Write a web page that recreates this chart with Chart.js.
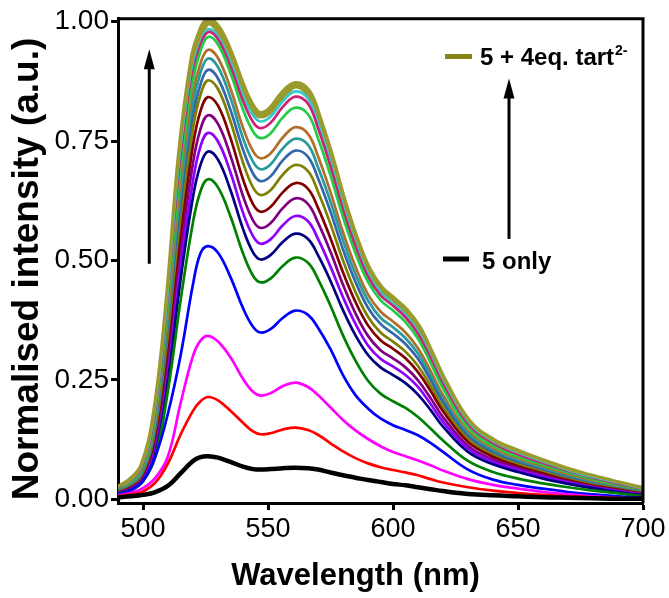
<!DOCTYPE html>
<html>
<head>
<meta charset="utf-8">
<script src="https://cdn.jsdelivr.net/npm/chart.js@4.4.0/dist/chart.umd.min.js"></script>
<style>
  html, body { margin: 0; padding: 0; background: #fff; }
  #wrap { position: relative; width: 669px; height: 598px; }
</style>
</head>
<body>
<div id="wrap"><canvas id="spectra" width="669" height="598"></canvas></div>
<script>
// Wavelength grid (nm)
const wavelengths = [490, 495, 500, 505, 510, 515, 520, 523, 526, 530, 535, 540, 544, 547, 551, 556, 561,
    566, 570, 575, 580, 585, 590, 595, 600, 605, 610, 615, 620, 630, 640, 650, 660, 670, 680, 690, 700];

// Normalised emission, one array per titration step (0 -> 4 eq. tart2-)
const tart000 = [0.004, 0.006, 0.009, 0.015, 0.028, 0.054, 0.08, 0.088, 0.09, 0.087, 0.078, 0.068, 0.063, 0.062, 0.063, 0.065, 0.066,
    0.065, 0.062, 0.056, 0.05, 0.045, 0.04, 0.036, 0.032, 0.029, 0.025, 0.021, 0.017, 0.011, 0.008, 0.006, 0.004, 0.003, 0.002, 0.001, 0.001];
const tart025 = [0.006, 0.01, 0.016, 0.035, 0.075, 0.135, 0.185, 0.205, 0.214, 0.207, 0.185, 0.16, 0.142, 0.136, 0.138, 0.146, 0.15,
    0.145, 0.135, 0.117, 0.1, 0.086, 0.075, 0.067, 0.061, 0.056, 0.05, 0.042, 0.035, 0.025, 0.018, 0.013, 0.009, 0.006, 0.004, 0.002, 0.001];
const tart050 = [0.008, 0.013, 0.023, 0.045, 0.09, 0.2, 0.3, 0.332, 0.342, 0.33, 0.297, 0.252, 0.225, 0.217, 0.222, 0.237, 0.244,
    0.235, 0.218, 0.192, 0.166, 0.144, 0.126, 0.111, 0.099, 0.09, 0.081, 0.071, 0.06, 0.042, 0.03, 0.022, 0.015, 0.01, 0.006, 0.003, 0.001];
const tart075 = [0.01, 0.018, 0.038, 0.09, 0.18, 0.3, 0.45, 0.515, 0.53, 0.516, 0.465, 0.4, 0.361, 0.349, 0.356, 0.38, 0.395,
    0.386, 0.359, 0.314, 0.26, 0.218, 0.19, 0.169, 0.155, 0.145, 0.134, 0.118, 0.099, 0.062, 0.041, 0.03, 0.022, 0.015, 0.01, 0.006, 0.003];
const tart100 = [0.011, 0.018, 0.037, 0.09, 0.228, 0.415, 0.58, 0.645, 0.67, 0.653, 0.592, 0.515, 0.468, 0.454, 0.462, 0.489, 0.506,
    0.495, 0.461, 0.405, 0.343, 0.29, 0.248, 0.221, 0.205, 0.191, 0.172, 0.148, 0.123, 0.08, 0.057, 0.043, 0.033, 0.025, 0.018, 0.012, 0.006];
const tart125 = [0.012, 0.02, 0.038, 0.095, 0.248, 0.459, 0.633, 0.7, 0.728, 0.711, 0.647, 0.566, 0.517, 0.502, 0.511, 0.539, 0.556,
    0.545, 0.511, 0.457, 0.396, 0.343, 0.302, 0.276, 0.26, 0.243, 0.219, 0.187, 0.152, 0.099, 0.073, 0.057, 0.043, 0.032, 0.023, 0.015, 0.008];
const tart150 = [0.013, 0.021, 0.04, 0.104, 0.265, 0.487, 0.667, 0.739, 0.767, 0.749, 0.684, 0.6, 0.551, 0.535, 0.544, 0.574, 0.593,
    0.582, 0.545, 0.487, 0.423, 0.367, 0.322, 0.294, 0.278, 0.26, 0.235, 0.2, 0.162, 0.106, 0.078, 0.061, 0.047, 0.035, 0.025, 0.017, 0.009];
const tart175 = [0.014, 0.023, 0.043, 0.109, 0.281, 0.515, 0.704, 0.775, 0.804, 0.786, 0.719, 0.635, 0.584, 0.568, 0.578, 0.61, 0.63,
    0.618, 0.579, 0.518, 0.449, 0.389, 0.342, 0.312, 0.295, 0.276, 0.249, 0.212, 0.172, 0.112, 0.083, 0.065, 0.05, 0.037, 0.026, 0.018, 0.01];
const tart200 = [0.014, 0.024, 0.045, 0.118, 0.299, 0.543, 0.741, 0.813, 0.842, 0.824, 0.756, 0.67, 0.618, 0.602, 0.612, 0.643, 0.662,
    0.65, 0.61, 0.546, 0.475, 0.413, 0.364, 0.333, 0.315, 0.295, 0.266, 0.227, 0.184, 0.12, 0.089, 0.069, 0.054, 0.04, 0.028, 0.02, 0.011];
const tart225 = [0.016, 0.026, 0.048, 0.123, 0.316, 0.57, 0.776, 0.847, 0.877, 0.859, 0.791, 0.705, 0.653, 0.637, 0.647, 0.68, 0.7,
    0.687, 0.644, 0.576, 0.5, 0.434, 0.382, 0.349, 0.33, 0.309, 0.279, 0.238, 0.193, 0.126, 0.093, 0.073, 0.057, 0.042, 0.03, 0.021, 0.012];
const tart250 = [0.016, 0.027, 0.05, 0.13, 0.328, 0.593, 0.8, 0.869, 0.899, 0.881, 0.815, 0.732, 0.682, 0.666, 0.676, 0.71, 0.73,
    0.717, 0.672, 0.602, 0.523, 0.455, 0.401, 0.367, 0.347, 0.325, 0.294, 0.25, 0.203, 0.132, 0.098, 0.077, 0.06, 0.045, 0.032, 0.022, 0.013];
const tart275 = [0.018, 0.029, 0.054, 0.138, 0.342, 0.618, 0.826, 0.893, 0.923, 0.905, 0.84, 0.756, 0.707, 0.691, 0.701, 0.735, 0.755,
    0.742, 0.695, 0.623, 0.542, 0.471, 0.416, 0.38, 0.36, 0.337, 0.305, 0.259, 0.21, 0.137, 0.101, 0.08, 0.063, 0.047, 0.034, 0.024, 0.014];
const tart300 = [0.018, 0.03, 0.056, 0.146, 0.358, 0.64, 0.847, 0.913, 0.941, 0.924, 0.86, 0.778, 0.729, 0.714, 0.724, 0.758, 0.779,
    0.765, 0.718, 0.643, 0.559, 0.487, 0.429, 0.393, 0.372, 0.349, 0.316, 0.269, 0.218, 0.142, 0.105, 0.083, 0.066, 0.05, 0.036, 0.025, 0.015];
const tart325 = [0.019, 0.032, 0.06, 0.155, 0.373, 0.668, 0.876, 0.939, 0.968, 0.952, 0.892, 0.816, 0.77, 0.756, 0.766, 0.8, 0.82,
    0.806, 0.756, 0.678, 0.591, 0.515, 0.455, 0.417, 0.395, 0.371, 0.336, 0.286, 0.232, 0.15, 0.111, 0.088, 0.07, 0.053, 0.039, 0.027, 0.016];
const tart350 = [0.02, 0.033, 0.063, 0.161, 0.381, 0.685, 0.89, 0.951, 0.978, 0.963, 0.906, 0.834, 0.79, 0.777, 0.788, 0.822, 0.843,
    0.828, 0.777, 0.697, 0.606, 0.529, 0.466, 0.427, 0.405, 0.381, 0.346, 0.295, 0.24, 0.155, 0.115, 0.092, 0.073, 0.055, 0.041, 0.029, 0.017];
const tart375 = [0.02, 0.034, 0.065, 0.167, 0.394, 0.699, 0.9, 0.957, 0.984, 0.969, 0.915, 0.845, 0.804, 0.791, 0.801, 0.834, 0.854,
    0.839, 0.787, 0.706, 0.614, 0.535, 0.472, 0.433, 0.41, 0.386, 0.351, 0.299, 0.244, 0.158, 0.117, 0.094, 0.075, 0.057, 0.043, 0.03, 0.018];
const tart400 = [0.022, 0.038, 0.07, 0.18, 0.41, 0.72, 0.92, 0.975, 1.0, 0.985, 0.93, 0.86, 0.818, 0.805, 0.815, 0.848, 0.868,
    0.852, 0.8, 0.718, 0.625, 0.545, 0.481, 0.441, 0.418, 0.394, 0.359, 0.306, 0.25, 0.162, 0.121, 0.098, 0.078, 0.06, 0.045, 0.032, 0.02];

const xTickValues = [500, 550, 600, 650, 700];
const yTickValues = [0, 0.25, 0.5, 0.75, 1.0];

const legendFirst = "5 only";
const legendLast = "5 + 4eq. tart";
const legendLastSup = "2-";

// Styles (black first so it ends up drawn on top)
const seriesList = [tart000, tart025, tart050, tart075, tart100, tart125, tart150, tart175, tart200,
    tart225, tart250, tart275, tart300, tart325, tart350, tart375, tart400];
const seriesColors = ["#000000", "#ff0000", "#ff00ff", "#0000ff", "#008000", "#000080", "#8f00ff", "#800080",
    "#800000", "#808000", "#3366aa", "#2a9a9a", "#b0702c", "#22cc44", "#cc2277", "#33cccc", "#9a9a2e"];

const datasets = seriesList.map((values, i) => ({
    data: values.map((v, j) => ({ x: wavelengths[j], y: v })),
    borderColor: seriesColors[i],
    borderWidth: i === 0 ? 4.5 : (i === seriesList.length - 1 ? 7.5 : 2.7),
    pointRadius: 0,
    fill: false,
    tension: 0.4,
}));

const fontFamily = "'Liberation Sans', Arial, sans-serif";

// Frame, arrows, legend and axis titles
const decorations = {
    id: "decorations",
    afterDraw(chart) {
        const { ctx, chartArea: a, scales: { x, y } } = chart;
        ctx.save();
        ctx.strokeStyle = "#000";
        ctx.lineWidth = 3;
        ctx.beginPath();
        ctx.moveTo(a.left, a.top);
        ctx.lineTo(a.right, a.top);
        ctx.lineTo(a.right, a.bottom);
        ctx.stroke();

        function arrow(nm, from, to) {
            const px = x.getPixelForValue(nm);
            const y0 = y.getPixelForValue(from);
            const y1 = y.getPixelForValue(to);
            ctx.strokeStyle = "#000";
            ctx.lineWidth = 3;
            ctx.beginPath();
            ctx.moveTo(px, y0);
            ctx.lineTo(px, y1 + 14);
            ctx.stroke();
            ctx.fillStyle = "#000";
            ctx.beginPath();
            ctx.moveTo(px, y1);
            ctx.lineTo(px - 5.5, y1 + 20);
            ctx.lineTo(px + 5.5, y1 + 20);
            ctx.closePath();
            ctx.fill();
        }
        arrow(502.5, 0.493, 0.942);
        arrow(646.4, 0.545, 0.881);

        // legend entries
        ctx.lineWidth = 5;
        ctx.strokeStyle = "#85851a";
        ctx.beginPath();
        ctx.moveTo(x.getPixelForValue(620.8), y.getPixelForValue(0.927));
        ctx.lineTo(x.getPixelForValue(631.6), y.getPixelForValue(0.927));
        ctx.stroke();
        ctx.strokeStyle = "#000";
        ctx.beginPath();
        ctx.moveTo(x.getPixelForValue(620.0), y.getPixelForValue(0.503));
        ctx.lineTo(x.getPixelForValue(630.4), y.getPixelForValue(0.503));
        ctx.stroke();

        ctx.fillStyle = "#000";
        ctx.textAlign = "left";
        ctx.textBaseline = "alphabetic";
        ctx.font = "bold 24px " + fontFamily;
        const lx = x.getPixelForValue(634.8);
        const ly = y.getPixelForValue(0.91);
        ctx.fillText(legendLast, lx, ly);
        const w = ctx.measureText(legendLast).width;
        ctx.font = "bold 14px " + fontFamily;
        ctx.fillText(legendLastSup, lx + w + 1, ly - 10);
        ctx.font = "bold 24px " + fontFamily;
        ctx.fillText(legendFirst, x.getPixelForValue(635.6), y.getPixelForValue(0.482));

        // axis titles
        ctx.font = "bold 31px " + fontFamily;
        ctx.textAlign = "center";
        ctx.fillText("Wavelength (nm)", (a.left + a.right) / 2 - 25, 585);
        ctx.translate(38, 269);
        ctx.rotate(-Math.PI / 2);
        ctx.font = "bold 37px " + fontFamily;
        ctx.fillText("Normalised intensity (a.u.)", 0, 0);
        ctx.restore();
    },
};

new Chart(document.getElementById("spectra"), {
    type: "line",
    data: { datasets },
    options: {
        responsive: false,
        animation: false,
        devicePixelRatio: 1,
        layout: { padding: { left: 0, right: 26, top: 17, bottom: 0 } },
        plugins: { legend: { display: false }, tooltip: { enabled: false } },
        scales: {
            x: {
                type: "linear",
                min: 490,
                max: 700,
                afterBuildTicks: (s) => { s.ticks = xTickValues.map((v) => ({ value: v })); },
                afterFit: (s) => { s.height = 95; },
                ticks: { font: { family: fontFamily, size: 27 }, color: "#000", padding: 3, maxRotation: 0 },
                grid: { drawOnChartArea: false, tickLength: 7, tickWidth: 3, color: "#000" },
                border: { display: true, width: 3, color: "#000" },
            },
            y: {
                type: "linear",
                min: -0.008,
                max: 1.006,
                afterBuildTicks: (s) => { s.ticks = yTickValues.map((v) => ({ value: v })); },
                afterFit: (s) => { s.width = 118; },
                ticks: { font: { family: fontFamily, size: 28 }, color: "#000", padding: 2, callback: (v) => v.toFixed(2) },
                grid: { drawOnChartArea: false, tickLength: 7, tickWidth: 3, color: "#000" },
                border: { display: true, width: 3, color: "#000" },
            },
        },
    },
    plugins: [decorations],
});
</script>
</body>
</html>
